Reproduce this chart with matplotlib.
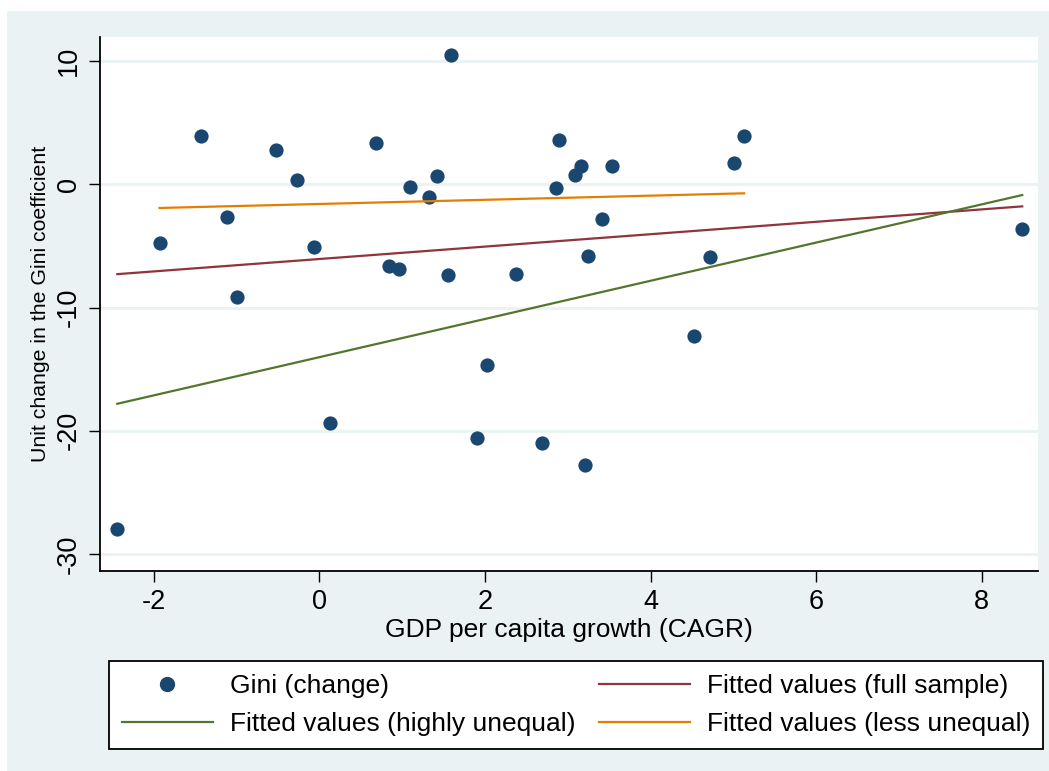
import matplotlib
matplotlib.use("Agg")
import matplotlib.pyplot as plt
from matplotlib.patches import Rectangle
from matplotlib.lines import Line2D

plt.rcParams['font.family'] = ['Liberation Sans', 'DejaVu Sans']

# Data
gdp_growth = [-2.44, -1.93, -1.43, -1.11, -0.99, -0.52, -0.27, -0.06, 0.13, 0.69,
              0.84, 0.96, 1.09, 1.32, 1.42, 1.59, 1.56, 1.90, 2.03, 2.37,
              2.69, 2.86, 2.89, 3.09, 3.16, 3.21, 3.24, 3.41, 3.53, 4.53,
              4.72, 5.01, 5.13, 8.49]
gini_change = [-28.0, -4.74, 3.88, -2.63, -9.13, 2.79, 0.38, -5.12, -19.41, 3.39,
               -6.64, -6.91, -0.24, -1.00, 0.68, 10.51, -7.32, -20.59, -14.63, -7.24,
               -21.0, -0.33, 3.60, 0.79, 1.49, -22.78, -5.83, -2.82, 1.49, -12.33,
               -5.93, 1.76, 3.88, -3.63]

fit_full_x = [-2.44, 8.49]
fit_full_y = [-7.29, -1.79]
fit_high_x = [-2.44, 8.49]
fit_high_y = [-17.81, -0.87]
fit_less_x = [-1.93, 5.13]
fit_less_y = [-1.92, -0.73]

xticks = [-2, 0, 2, 4, 6, 8]
yticks = [-30, -20, -10, 0, 10]

NAVY = '#1A476F'
MAROON = '#90353B'
FOREST = '#55752F'
ORANGE = '#E37E00'
BG = '#EAF2F3'

W, H = 1049, 771
fig = plt.figure(figsize=(W / 100, H / 100), dpi=100, facecolor='white')
fig.patches.append(Rectangle((7 / W, 0), 1 - 7 / W, 1 - 11 / H, transform=fig.transFigure,
                             facecolor=BG, edgecolor='none', zorder=-10))

left, right, top, bottom = 100, 1038, 37.3, 571
ax = fig.add_axes([left / W, 1 - bottom / H, (right - left) / W, (bottom - top) / H])
ax.set_facecolor('white')
ax.set_xlim(-2.649, 8.68)
ax.set_ylim(-31.38, 11.93)

for s in ['top', 'right']:
    ax.spines[s].set_visible(False)
for s in ['left', 'bottom']:
    ax.spines[s].set_linewidth(1.3)
    ax.spines[s].set_color('black')

ax.set_xticks(xticks)
ax.set_yticks(yticks)
ax.set_xticklabels([str(v) for v in xticks])
ax.set_yticklabels([str(v) for v in yticks], rotation=90, va='center')
ax.tick_params(axis='both', length=8, width=1.0, labelsize=19.5, pad=5, color='black')
ax.grid(axis='y', color=BG, linewidth=2.0, zorder=0)
ax.set_axisbelow(True)

sc = ax.scatter(gdp_growth, gini_change, s=105, color=NAVY, zorder=3, linewidths=0)
l_full, = ax.plot(fit_full_x, fit_full_y, color=MAROON, lw=1.6, zorder=4)
l_high, = ax.plot(fit_high_x, fit_high_y, color=FOREST, lw=1.6, zorder=4)
l_less, = ax.plot(fit_less_x, fit_less_y, color=ORANGE, lw=1.6, zorder=4)

ax.set_xlabel('GDP per capita growth (CAGR)', fontsize=19, labelpad=2)
ax.set_ylabel('Unit change in the Gini coefficient', fontsize=15.3, labelpad=4)

gini_handle = Line2D([], [], marker='o', linestyle='none', color=NAVY, markersize=10)
leg = fig.legend([gini_handle, l_high, l_full, l_less],
                 ['Gini (change)', 'Fitted values (highly unequal)',
                  'Fitted values (full sample)', 'Fitted values (less unequal)'],
                 ncol=2, loc='upper left', bbox_to_anchor=(109 / W, 1 - 661 / H),
                 fontsize=19, frameon=True, fancybox=False, shadow=False,
                 handlelength=3.43, handletextpad=0.65, columnspacing=0.9,
                 borderpad=0.5, labelspacing=0.52, borderaxespad=0)
frame = leg.get_frame()
frame.set_edgecolor('black')
frame.set_linewidth(1.3)
frame.set_facecolor('white')
frame.set_alpha(1)

fig.savefig('out.png', dpi=100, facecolor='white')
